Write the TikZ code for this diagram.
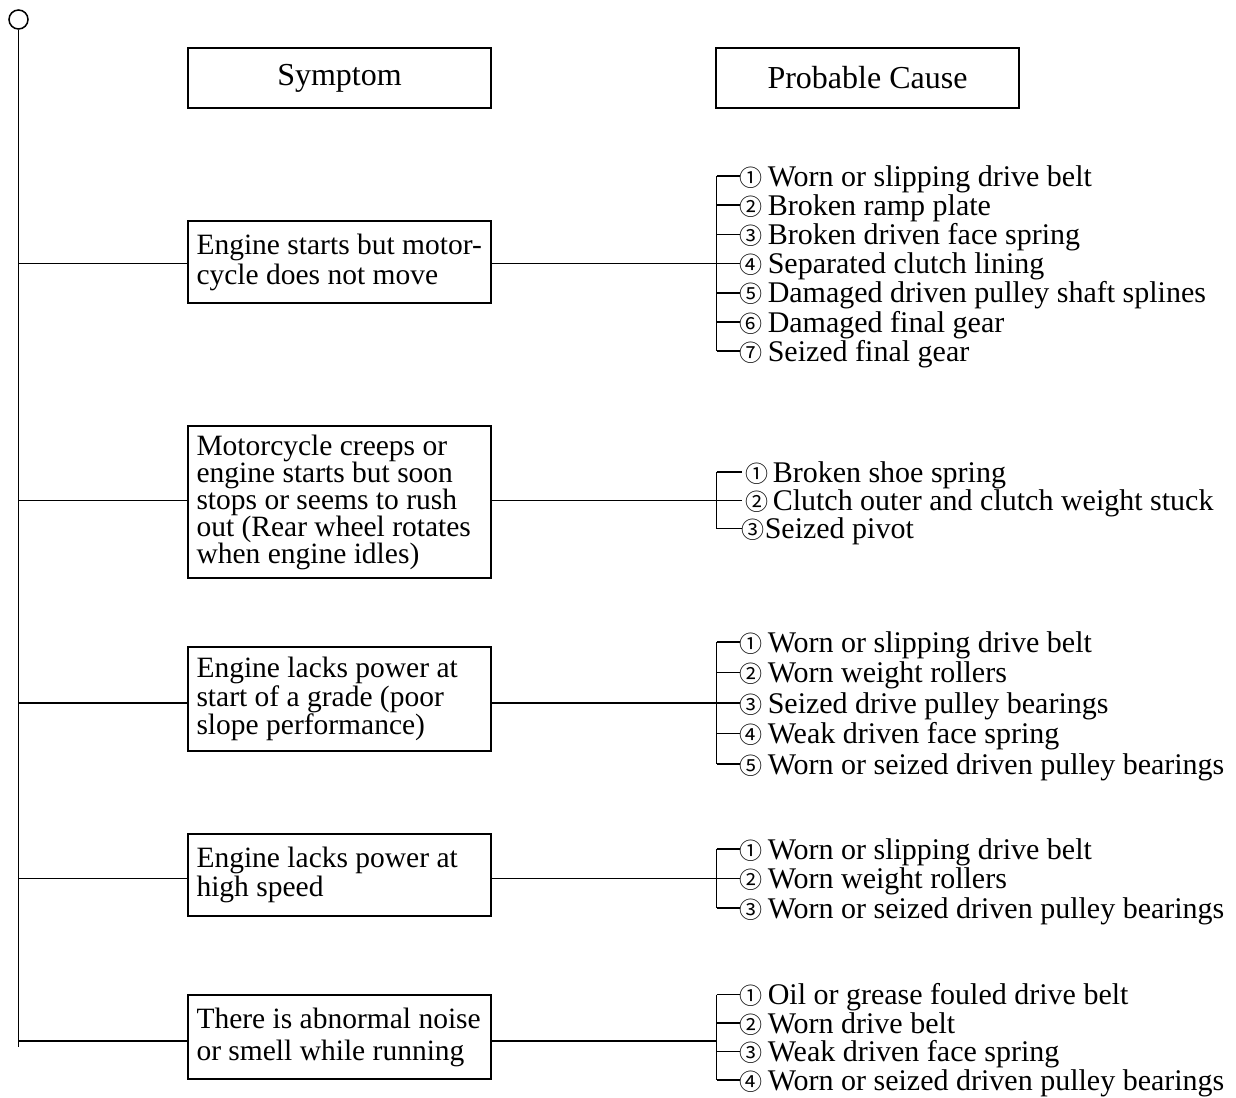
\documentclass[tikz,border=0pt]{standalone}
\usepackage{fontspec}
\setmainfont{Liberation Serif}
\newfontfamily\cfont{Noto Sans CJK SC}
\newcommand\cn[2][27pt]{\makebox[#1][l]{\hspace{-1pt}\cfont\fontsize{23}{23}\selectfont #2}}
\newcommand\causeitem[4]{%
  \coordinate (#1t) at (716.5,#3);
  \node[item] (#1) at (#2,#3+10) {#4};
  \draw (#1t) -- (#1.west |- #1t);}
\newcommand\sympt[5]{% name, center y, height, baselineskip, text
  \node[sbox, minimum height=#3pt] (#1) at (339.5,#2) {};
  \node[stext, font=\fontsize{29.5}{#4}\selectfont] (#1x) at ([xshift=8.5pt]#1.west) {#5};}
\begin{document}
\begin{tikzpicture}[x=1pt,y=-1pt, line width=1.5pt,
  hdr/.style={draw, minimum width=303pt, minimum height=60pt, inner sep=0pt, font=\fontsize{32}{36}\selectfont},
  sbox/.style={draw, minimum width=303pt, inner sep=0pt},
  stext/.style={anchor=west, inner sep=0pt, align=left},
  item/.style={anchor=base west, inner sep=0pt, font=\fontsize{30}{30}\selectfont}]
\useasboundingbox (0,0) rectangle (1236,1097);

% spine
\node[circle, draw, minimum size=19pt, inner sep=0pt] (top) at (18.5,19.5) {};
\coordinate (bot) at (18.5,1047);
\draw (top.south) -- (bot);

% headers
\node[hdr] (hs) at (339.5,78) {Symptom};
\node[hdr] (hc) at (867.5,78) {Probable Cause};

% symptom boxes
\sympt{s1}{262}{82}{30}{Engine starts but motor-\\cycle does not move}
\sympt{s2}{502}{152}{27}{Motorcycle creeps or\\engine starts but soon\\stops or seems to rush\\out (Rear wheel rotates\\when engine idles)}
\sympt{s3}{699}{104}{27}{Engine lacks power at\\start of a grade (poor\\slope performance)}
\sympt{s4}{875}{82}{29}{Engine lacks power at\\high speed}
\sympt{s5}{1037}{84}{32}{There is abnormal noise\\or smell while running}

% bracket 1
\causeitem{c1a}{740}{176}{\cn{①}Worn or slipping drive belt}
\causeitem{c1b}{740}{205.2}{\cn{②}Broken ramp plate}
\causeitem{c1c}{740}{234.4}{\cn{③}Broken driven face spring}
\causeitem{c1d}{740}{263.6}{\cn{④}Separated clutch lining}
\causeitem{c1e}{740}{292.8}{\cn{⑤}Damaged driven pulley shaft splines}
\causeitem{c1f}{740}{322}{\cn{⑥}Damaged final gear}
\causeitem{c1g}{740}{351.2}{\cn{⑦}Seized final gear}
\draw (c1at) -- (c1gt);
\coordinate (j1) at (716.5,263.6);
\draw (bot |- j1) -- (s1.west |- j1);
\draw (s1.east |- j1) -- (j1);

% bracket 2
\causeitem{c2a}{742}{472}{\cn[30pt]{\hspace{4pt}①}Broken shoe spring}
\causeitem{c2b}{742}{500.3}{\cn[30pt]{\hspace{4pt}②}Clutch outer and clutch weight stuck}
\causeitem{c2c}{742}{528.7}{\cn[22pt]{③}Seized pivot}
\draw (c2at) -- (c2ct);
\coordinate (j2) at (716.5,500.3);
\draw (bot |- j2) -- (s2.west |- j2);
\draw (s2.east |- j2) -- (j2);

% bracket 3
\causeitem{c3a}{740}{642}{\cn{①}Worn or slipping drive belt}
\causeitem{c3b}{740}{672.5}{\cn{②}Worn weight rollers}
\causeitem{c3c}{740}{703}{\cn{③}Seized drive pulley bearings}
\causeitem{c3d}{740}{733.5}{\cn{④}Weak driven face spring}
\causeitem{c3e}{740}{764}{\cn{⑤}Worn or seized driven pulley bearings}
\draw (c3at) -- (c3et);
\coordinate (j3) at (716.5,703);
\draw (bot |- j3) -- (s3.west |- j3);
\draw (s3.east |- j3) -- (j3);

% bracket 4
\causeitem{c4a}{740}{849}{\cn{①}Worn or slipping drive belt}
\causeitem{c4b}{740}{878.5}{\cn{②}Worn weight rollers}
\causeitem{c4c}{740}{908}{\cn{③}Worn or seized driven pulley bearings}
\draw (c4at) -- (c4ct);
\coordinate (j4) at (716.5,878.5);
\draw (bot |- j4) -- (s4.west |- j4);
\draw (s4.east |- j4) -- (j4);

% bracket 5
\causeitem{c5a}{740}{994.5}{\cn{①}Oil or grease fouled drive belt}
\causeitem{c5b}{740}{1023}{\cn{②}Worn drive belt}
\causeitem{c5c}{740}{1051.5}{\cn{③}Weak driven face spring}
\causeitem{c5d}{740}{1080}{\cn{④}Worn or seized driven pulley bearings}
\draw (c5at) -- (c5dt);
\coordinate (j5) at (716.5,1041);
\draw (bot |- j5) -- (s5.west |- j5);
\draw (s5.east |- j5) -- (j5);
\end{tikzpicture}
\end{document}
